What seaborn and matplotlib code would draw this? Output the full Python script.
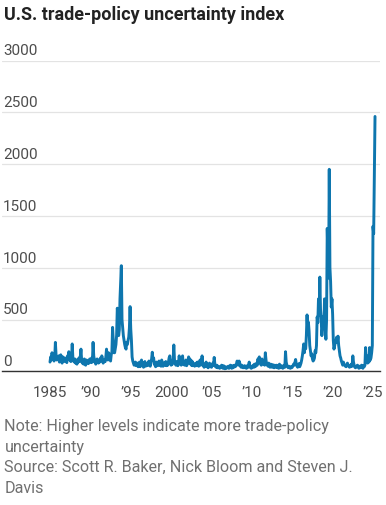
import numpy as np
import pandas as pd
import matplotlib
matplotlib.use("Agg")
import matplotlib.pyplot as plt
import seaborn as sns

# Monthly trade-policy uncertainty index, Jan 1985 onward
start_year = 1985
tpu_1985_1994 = [
    90, 140, 110, 180, 120, 150, 100, 130, 280, 160, 110, 130,
    120, 150, 90, 110, 160, 100, 80, 140, 120, 95, 130, 110,
    100, 85, 150, 120, 190, 110, 140, 95, 120, 265, 130, 100,
    90, 120, 80, 110, 70, 100, 90, 130, 95, 140, 215, 110,
    80, 100, 70, 120, 90, 60, 110, 85, 100, 75, 90, 120,
    100, 85, 130, 90, 280, 150, 110, 90, 70, 100, 120, 90,
    80, 110, 90, 130, 100, 150, 120, 80, 90, 110, 95, 140,
    215, 130, 110, 180, 140, 120, 100, 160, 190, 425, 300, 180,
    180, 220, 260, 350, 610, 550, 345, 400, 700, 850, 1020, 500,
    420, 345, 300, 260, 230, 215, 280, 260, 300, 330, 420, 625,
]
tpu_1995_2004 = [
    410, 300, 140, 100, 80, 60, 70, 90, 55, 60, 80, 45,
    60, 90, 45, 70, 110, 55, 80, 40, 65, 95, 50, 75,
    55, 80, 60, 100, 70, 50, 90, 120, 185, 110, 130, 70,
    60, 45, 90, 70, 55, 80, 100, 60, 75, 50, 110, 65,
    50, 70, 85, 60, 95, 55, 75, 60, 90, 130, 150, 80,
    60, 90, 70, 120, 255, 110, 80, 60, 95, 70, 55, 80,
    150, 90, 70, 60, 80, 150, 70, 90, 60, 75, 110, 55,
    70, 90, 140, 80, 120, 70, 60, 100, 55, 80, 65, 50,
    60, 80, 55, 90, 70, 50, 75, 110, 60, 85, 150, 70,
    55, 40, 70, 50, 90, 45, 60, 35, 50, 80, 45, 60,
]
tpu_2005_2014 = [
    40, 55, 80, 60, 135, 70, 45, 40, 60, 35, 50, 40,
    30, 45, 35, 60, 40, 30, 55, 35, 25, 45, 30, 40,
    35, 50, 30, 45, 60, 40, 30, 55, 35, 40, 60, 45,
    50, 70, 100, 90, 60, 100, 80, 50, 40, 60, 45, 35,
    40, 55, 35, 50, 30, 45, 60, 40, 90, 55, 40, 30,
    35, 50, 60, 40, 70, 45, 55, 80, 60, 120, 90, 140,
    100, 70, 60, 120, 90, 70, 80, 60, 180, 110, 70, 60,
    50, 80, 60, 40, 70, 55, 40, 65, 50, 35, 60, 45,
    40, 60, 35, 50, 30, 70, 45, 35, 55, 40, 30, 50,
    60, 40, 190, 90, 60, 45, 35, 50, 40, 30, 45, 35,
]
tpu_2015_2025 = [
    40, 55, 70, 60, 90, 115, 70, 50, 40, 60, 75, 45,
    60, 80, 110, 150, 200, 265, 180, 240, 220, 350, 545, 380,
    475, 390, 250, 200, 150, 170, 120, 100, 110, 130, 200, 180,
    250, 525, 470, 700, 540, 910, 600, 500, 345, 420, 530, 460,
    700, 420, 310, 500, 1380, 1100, 900, 1950, 1000, 865, 620, 700,
    550, 300, 215, 250, 280, 300, 330, 280, 340, 250, 200, 150,
    130, 100, 80, 60, 90, 70, 60, 50, 45, 60, 80, 55,
    50, 40, 60, 45, 70, 50, 150, 90, 60, 40, 35, 50,
    45, 60, 40, 30, 50, 35, 45, 60, 40, 30, 55, 45,
    60, 230, 100, 150, 80, 120, 90, 230, 110, 130, 180, 250,
    1400, 1330, 1900, 2460,
]

y_ticks = [0, 500, 1000, 1500, 2000, 2500, 3000]
x_ticks = [1985, 1990, 1995, 2000, 2005, 2010, 2015, 2020, 2025]
x_labels = ["1985", "\u201990", "\u201995", "2000", "\u201905", "\u201910", "\u201915", "\u201920", "\u201925"]

title = "U.S. trade-policy uncertainty index"
note = ("Note: Higher levels indicate more trade-policy\nuncertainty\n"
        "Source: Scott R. Baker, Nick Bloom and Steven J.\nDavis")

values = tpu_1985_1994 + tpu_1995_2004 + tpu_2005_2014 + tpu_2015_2025
months = np.arange(len(values))
df = pd.DataFrame({"year": start_year + months / 12.0, "tpu": values})

sns.set_theme(style="white")
plt.rcParams["font.family"] = ["Roboto", "DejaVu Sans"]

W, H = 386, 506
fig = plt.figure(figsize=(W / 100, H / 100), dpi=100)
ax = fig.add_axes([2 / W, 1 - 372.4 / H, 378 / W, (372.4 - 61.5) / H])

sns.lineplot(data=df, x="year", y="tpu", ax=ax, color="#0e76ae", linewidth=2.1)

ax.set_xlim(1985 - 48 / 8.075, 2025 + 7 / 8.075)
ax.set_ylim(0, 3000)
ax.set_xlabel("")
ax.set_ylabel("")

for s in ["top", "right", "left"]:
    ax.spines[s].set_visible(False)
ax.spines["bottom"].set_color("#333333")
ax.spines["bottom"].set_linewidth(1.0)

ax.set_yticks(y_ticks, labels=[])
ax.tick_params(axis="y", length=0)
ax.yaxis.grid(True, color="#e3e3e3", linewidth=0.9)
ax.set_axisbelow(True)
for v in y_ticks:
    ax.text(0.003, v + 30, str(v), transform=ax.get_yaxis_transform(),
            ha="left", va="bottom", fontsize=11, color="#4d4d4d")

ax.set_xticks(x_ticks, labels=x_labels)
ax.set_xticks(range(1985, 2026), minor=True)
ax.tick_params(axis="x", which="major", length=5, width=0.9, color="#333333",
               pad=4.5, labelsize=11, labelcolor="#4d4d4d")
ax.tick_params(axis="x", which="minor", length=2.5, width=0.8, color="#333333")

fig.text(4 / W, 1 - 19.5 / H, title, ha="left", va="baseline",
         fontsize=13, fontweight="bold", color="#222222")
fig.text(4.5 / W, 1 - 419 / H, note, ha="left", va="top", fontsize=11.6,
         color="#707070", linespacing=1.47)

fig.savefig("out.png", dpi=100)
